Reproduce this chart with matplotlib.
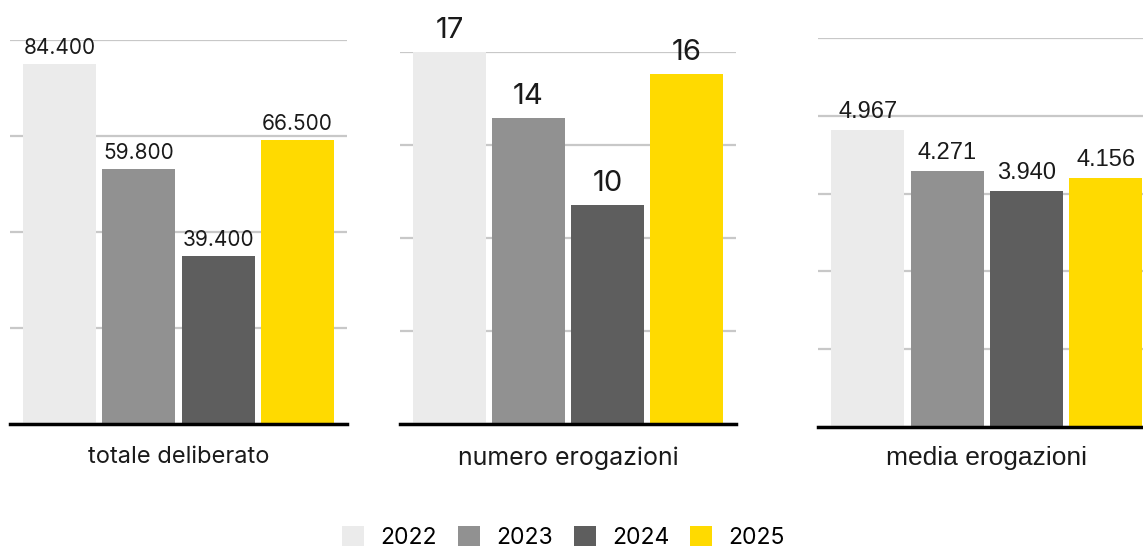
import numpy as np
import matplotlib
matplotlib.use('Agg')
import matplotlib.pyplot as plt
from matplotlib.patches import Patch

# dati
anni = ['2022', '2023', '2024', '2025']
colori = ['#EBEBEB', '#919191', '#5E5E5E', '#FFDA00']

totale_deliberato = [84400, 59800, 39400, 66500]
numero_erogazioni = [17, 14, 10, 16]
media_erogazioni = [4967, 4271, 3940, 4156]

etichette_totale = ['84.400', '59.800', '39.400', '66.500']
etichette_numero = ['17', '14', '10', '16']
etichette_media = ['4.967', '4.271', '3.940', '4.156']

font_geo = 'Inter'
font_helv = 'Liberation Sans'

fig = plt.figure(figsize=(11.43, 5.49), dpi=100)

# (posizione, valori, etichette, ymax, titolo, font, size valori, offset valori, offset titolo, size titolo)
pannelli = [
    ([0.00875, 0.2277, 0.2948, 0.6995], totale_deliberato, etichette_totale, 90000,
     'totale deliberato', font_geo, 15, 7.2, -28, 17),
    ([0.350, 0.2277, 0.2940, 0.6776], numero_erogazioni, etichette_numero, 17,
     'numero erogazioni', font_geo, 21, 10, -29.5, 18),
    ([0.7160, 0.2222, 0.2948, 0.7086], media_erogazioni, etichette_media, 6500,
     'media erogazioni', font_helv, 17, 8.6, -27, 19),
]

for pos, valori, etichette, ymax, titolo, fam, fs, off, off_t, fs_t in pannelli:
    ax = fig.add_axes(pos)
    x = np.arange(len(valori))
    ax.bar(x, valori, width=0.92, color=colori, zorder=2)
    ax.set_xlim(-0.624, 3.624)
    ax.set_ylim(0, ymax)
    ax.set_yticks(np.linspace(0, ymax, 6 if ymax == 6500 else 5))
    ax.yaxis.grid(True, color='#C8C8C8', linewidth=1.6, zorder=0)
    ax.set_axisbelow(True)
    ax.tick_params(left=False, bottom=False, labelleft=False, labelbottom=False)
    for s in ['top', 'right', 'left']:
        ax.spines[s].set_visible(False)
    ax.spines['bottom'].set_linewidth(2.5)
    ax.spines['bottom'].set_color('black')
    ax.spines['bottom'].set_zorder(3)

    for xi, v, lab in zip(x, valori, etichette):
        ax.annotate(lab, xy=(xi, v), xytext=(0, off), textcoords='offset points',
                    ha='center', va='baseline', fontsize=fs, family=fam,
                    color='#1a1a1a', zorder=4)

    ax.annotate(titolo, xy=(0.5, 0), xycoords='axes fraction', xytext=(0, off_t),
                textcoords='offset points', ha='center', va='baseline',
                fontsize=fs_t, family=fam, color='#1a1a1a')

# legenda
handles = [Patch(facecolor=c, edgecolor='none') for c in colori]
fig.legend(handles, anni, loc='lower center', bbox_to_anchor=(0.493, -0.02),
           ncol=4, frameon=False, borderpad=0, handlelength=0.96, handleheight=0.96,
           handletextpad=0.7, columnspacing=0.92, prop={'family': font_geo, 'size': 16.5})

plt.savefig('out.png', dpi=100)
